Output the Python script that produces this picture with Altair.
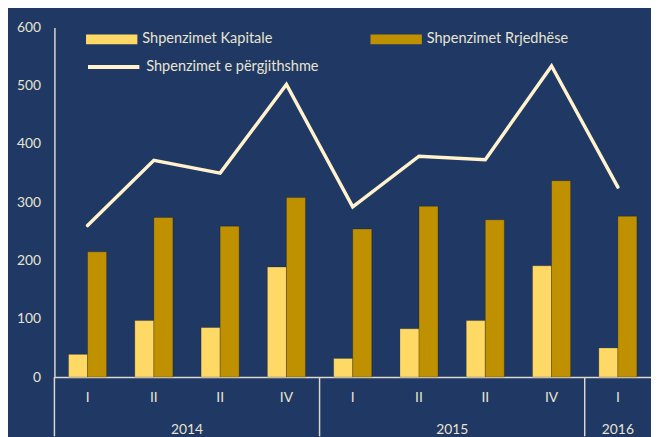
import altair as alt
import pandas as pd

quarters = ["I", "II", "II", "IV", "I", "II", "II", "IV", "I"]
years = ["2014", "2014", "2014", "2014", "2015", "2015", "2015", "2015", "2016"]
kapitale = [39, 97, 85, 189, 32, 83, 97, 191, 50]
rrjedhese = [215, 274, 259, 308, 254, 293, 270, 337, 276]
totale = [260, 372, 350, 502, 292, 379, 373, 534, 326]

S_KAP = "Shpenzimet Kapitale"
S_RRJ = "Shpenzimet Rrjedhëse"
S_TOT = "Shpenzimet e përgjithshme"

BG = "#1F3864"
TXT = "#E9E4D2"
AX = "#DCD8CC"
FONT = "Lato"

W, H = 604, 354

idx = list(range(len(quarters)))
bars = pd.DataFrame(
    [{"idx": i, "series": S_KAP, "value": v} for i, v in zip(idx, kapitale)]
    + [{"idx": i, "series": S_RRJ, "value": v} for i, v in zip(idx, rrjedhese)]
)
line = pd.DataFrame({"idx": idx, "series": S_TOT, "value": totale})
qlab = pd.DataFrame({"pos": [i + 0.5 for i in idx], "q": quarters})

# year groups from the years list
groups = []
for y in dict.fromkeys(years):
    ids = [i for i, yy in enumerate(years) if yy == y]
    groups.append({"year": y, "start": ids[0], "center": (ids[0] + ids[-1] + 1) / 2})
grp = pd.DataFrame(groups)

n = len(quarters)
qx = alt.Scale(domain=[0, n], nice=False, zero=False)

bar_layer = alt.Chart(bars).mark_bar(stroke="#000000", strokeOpacity=0.22, strokeWidth=1).encode(
    x=alt.X("idx:O", scale=alt.Scale(paddingInner=0, paddingOuter=0),
            axis=alt.Axis(labels=False, ticks=False, domain=True, domainColor=AX,
                          domainWidth=1.5, title=None)),
    xOffset=alt.XOffset("series:N", sort=[S_KAP, S_RRJ],
                        scale=alt.Scale(paddingInner=0, paddingOuter=0.74)),
    y=alt.Y("value:Q", scale=alt.Scale(domain=[0, 600], nice=False),
            axis=alt.Axis(values=[0, 100, 200, 300, 400, 500, 600], grid=False, ticks=False,
                          domainColor=AX, domainWidth=1.5, labelColor=TXT, labelFont=FONT,
                          labelFontSize=14, labelPadding=14, title=None)),
    color=alt.Color("series:N", sort=[S_KAP, S_RRJ],
                    scale=alt.Scale(domain=[S_KAP, S_RRJ], range=["#FFD966", "#BF9000"]),
                    legend=alt.Legend(orient="none", legendX=32, legendY=-14, direction="horizontal",
                                      title=None, symbolType="M-1,-0.19L1,-0.19L1,0.19L-1,0.19Z",
                                      symbolSize=2704, symbolStrokeWidth=0, labelColor=TXT,
                                      labelFont=FONT, labelFontSize=14.7, labelOffset=5,
                                      labelLimit=400, columnPadding=99, padding=0)),
)

line_layer = alt.Chart(line).mark_line(strokeWidth=3.5, strokeCap="round", strokeJoin="miter").encode(
    x=alt.X("idx:O", scale=alt.Scale(paddingInner=0, paddingOuter=0), axis=None),
    y=alt.Y("value:Q"),
    stroke=alt.Stroke("series:N", scale=alt.Scale(domain=[S_TOT], range=["#FFF2CC"]),
                      legend=alt.Legend(orient="none", legendX=32, legendY=12, title=None,
                                        symbolType="stroke", symbolSize=2704,
                                        symbolStrokeWidth=4, labelColor=TXT, labelFont=FONT,
                                        labelFontSize=14.7, labelOffset=5, labelLimit=400,
                                        padding=0)),
)

qtext = alt.Chart(qlab).mark_text(color=TXT, font=FONT, fontSize=14, baseline="middle").encode(
    x=alt.X("pos:Q", scale=qx, axis=None),
    y=alt.value(H + 21),
    text="q:N",
)

seps = alt.Chart(grp).mark_rule(color=AX, strokeWidth=1.5).encode(
    x=alt.X("start:Q", scale=qx, axis=None),
    y=alt.value(H),
    y2=alt.value(H + 60),
)

ytext = alt.Chart(grp).mark_text(color=TXT, font=FONT, fontSize=14, baseline="middle").encode(
    x=alt.X("center:Q", scale=qx, axis=None),
    y=alt.value(H + 54),
    text="year:N",
)

chart = (
    alt.layer(bar_layer, line_layer, qtext, seps, ytext)
    .resolve_scale(x="independent")
    .properties(width=W, height=H, background=BG,
                padding={"left": 47, "top": 17, "right": 0, "bottom": 58},
                autosize=alt.AutoSizeParams(type="none"))
    .configure_view(stroke=None)
)

chart.save("out.html", embed_options={"renderer": "svg", "actions": False})
